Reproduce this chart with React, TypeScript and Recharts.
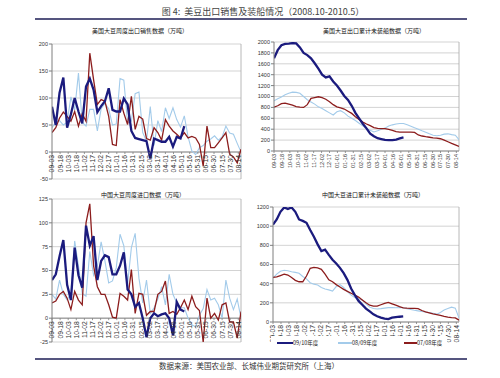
import React from 'react';
import { LineChart, Line, XAxis, YAxis, CartesianGrid, ReferenceLine } from 'recharts';

// week offsets (days from 09-03) and date tick labels every 15 days
const weekDays = [
  0, 7, 14, 21, 28, 35, 42, 49, 56, 63, 70, 77, 84, 91, 98, 105, 112, 119, 126, 133, 140, 147, 154,
  161, 168, 175, 182, 189, 196, 203, 210, 217, 224, 231, 238, 245, 252, 259, 266, 273, 280, 287, 294,
  301, 308, 315, 322, 329, 336, 343, 350,
];
const tickDays = [
  0, 15, 30, 45, 60, 75, 90, 105, 120, 135, 150, 165, 180, 195, 210, 225, 240, 255, 270, 285, 300, 315,
  330, 345,
];
const tickLabels = [
  '09-03', '09-18', '10-03', '10-18', '11-02', '11-17', '12-02', '12-17', '01-01', '01-16', '01-31',
  '02-15', '03-02', '03-17', '04-01', '04-16', '05-01', '05-16', '05-31', '06-15', '06-30', '07-15',
  '07-30', '08-14',
];

const seasons = ['09/10年度', '08/09年度', '07/08年度'];

// 美国大豆周度出口销售数据（万吨）
const usSales0910 = [
  84, 50, 110, 138, 45, 70, 100, 75, 53, 121, 136, 115, 74, 85, 94, 118, 78, 75, 75, 99, 88, 39, 26,
  24, 22, 20, -12, 25, 22, 19, 19, 28, 10, 28, 25, 48,
];
const usSales0809 = [
  45, 55, 58, 50, 55, 102, 78, 146, 55, 48, 79, 79, 39, 80, 90, 80, 50, 52, 136, 133, 54, 57, 108, 111,
  36, 20, 84, 12, 58, 38, 82, 62, 82, 60, 46, 67, 28, 2, -5, 8, 12, 20, 24, 30, 22, 28, 48, 35, 33, 16, 0,
];
const usSales0708 = [
  36, 45, 63, 74, 66, 57, 75, 48, 71, 57, 183, 134, 88, 97, 94, 66, 14, 12, 97, 72, 51, 103, 42, 66, 61,
  25, 22, 45, 36, 22, 60, 48, 39, 33, 26, 36, 26, 29, 26, 14, -26, 48, 8, 8, 17, 26, 36, -4, -9, -20, 5,
];

// 美国大豆出口累计未装船数据（万吨）
const usUnshipped0910 = [
  1700, 1850, 1940, 1965, 1970, 1980, 1975, 1900, 1800, 1760, 1700, 1610, 1510, 1400, 1350, 1370, 1275,
  1200, 1110, 1010, 936, 830, 700, 600, 500, 416, 320, 270, 235, 220, 205, 200, 200, 210, 230, 248,
];
const usUnshipped0809 = [
  920, 960, 990, 1030, 1060, 1080, 1075, 1060, 1000, 940, 900, 860, 810, 780, 740, 700, 660, 720, 740,
  700, 640, 600, 560, 510, 460, 410, 380, 350, 370, 400, 420, 460, 480, 495, 505, 505, 480, 455, 425,
  400, 370, 345, 315, 290, 280, 290, 310, 315, 300, 290, 210,
];
const usUnshipped0708 = [
  805, 830, 870, 880, 860, 840, 815, 805, 800, 850, 965, 980, 995, 980, 950, 905, 850, 810, 790, 770,
  730, 690, 630, 580, 530, 495, 465, 430, 415, 410, 410, 395, 380, 355, 345, 345, 345, 345, 340, 295,
  275, 262, 252, 240, 235, 225, 200, 170, 140, 112, 85,
];

// 中国大豆周度进口数据（万吨）
const cnImports0910 = [
  40, 46, 65, 82, 35, 19, 74, 45, 32, 97, 76, 86, 40, 60, 66, 64, 46, 46, 55, 69, 30, 25, 12, 16, 0,
  -20, 0, 5, 2, 4, 5, 0, -18, 17, 9, 7,
];
const cnImports0809 = [
  25, 20, 40, 25, 19, 26, 81, 55, 26, 23, 70, 45, 55, 80, 60, 37, 39, 53, 88, 76, 36, 74, 89, 42, 16,
  40, 5, 11, 20, 33, 14, 46, 25, 16, 11, 11, 0, -7, -9, 3, 10, 30, 19, 21, 14, 0, 40, 21, 9, 20, 0,
];
const cnImports0708 = [
  16, 18, 25, 28, 21, 9, 28, 19, 14, 100, 120, 55, 33, 25, 25, 14, 1, 0, 26, 23, 19, 51, 5, 26, 25, 3,
  7, 7, 25, 28, 39, 5, 7, 4, 11, 19, 9, 23, 12, 8, -25, 21, 0, 5, -2, 14, 16, -4, -4, -21, 7,
];

// 中国大豆进口累计未装船数据（万吨）
const cnUnshipped0910 = [
  1016, 1070, 1150, 1195, 1180, 1195, 1150, 1070, 1055, 1035, 960, 890, 810, 740, 755, 700, 650, 610,
  565, 510, 440, 350, 280, 220, 180, 140, 110, 80, 60, 45, 35, 30, 45, 50, 55, 58,
];
const cnUnshipped0809 = [
  458, 500, 530, 540, 535, 525, 518, 508, 475, 450, 410, 395, 386, 360, 345, 335, 323, 370, 390, 360,
  316, 280, 255, 240, 230, 190, 155, 140, 136, 140, 145, 150, 150, 148, 150, 150, 138, 130, 122, 116,
  110, 105, 98, 90, 82, 100, 125, 140, 155, 145, 40,
];
const cnUnshipped0708 = [
  465, 470, 485, 500, 490, 465, 435, 420, 420, 480, 560, 570, 565, 550, 500, 440, 420, 390, 365, 340,
  320, 300, 280, 260, 230, 200, 175, 165, 165, 180, 195, 205, 190, 175, 160, 148, 145, 143, 142, 140,
  120, 105, 95, 85, 78, 68, 58, 50, 45, 42, 20,
];

const NAVY = '#1b1b7e';
const LIGHT = '#a3cbea';
const RED = '#8c1d1d';

const numFont = '"Liberation Sans", Arial, sans-serif';
const cjkFont = '"Noto Sans CJK SC", sans-serif';

const buildRows = (a: number[], b: number[], c: number[]) =>
  weekDays.map((day, k) => ({ day, s0910: a[k], s0809: b[k], s0708: c[k] }));

function makeDateTick(shift: number, size: number) {
  return (props: any) => {
    const { x, y, payload } = props;
    const label = tickLabels[tickDays.indexOf(payload.value)];
    return (
      <g transform={`translate(${x},${y - shift})`}>
        <line x1={0} y1={0} x2={0} y2={2} stroke="#7f7f7f" strokeWidth={0.8} />
        <text
          transform="rotate(-90)"
          x={-3}
          y={0}
          dy={size * 0.36}
          textAnchor="end"
          fontSize={size}
          fill="#333"
          fontFamily={numFont}
        >
          {label}
        </text>
      </g>
    );
  };
}

interface PanelProps {
  left: number;
  top: number;
  width: number;
  height: number;
  margin: { top: number; right: number; bottom: number; left: number };
  yAxisWidth: number;
  yMin: number;
  yMax: number;
  yTicks: number[];
  rows: any[];
  title: string;
  titleX: number;
  titleY: number;
  dateSize: number;
}

function Panel({ left, top, width, height, margin, yAxisWidth, yMin, yMax, yTicks, rows, title, titleX, titleY, dateSize }: PanelProps) {
  const axisH = 1;
  const plotH = height - margin.top - margin.bottom - axisH;
  const zeroShift = (plotH * (0 - yMin)) / (yMax - yMin);
  return (
    <>
      <div
        style={{
          position: 'absolute',
          left: titleX,
          top: titleY,
          transform: 'translateX(-50%)',
          fontFamily: cjkFont,
          fontSize: 6,
          lineHeight: '8px',
          color: '#111',
          whiteSpace: 'nowrap',
        }}
      >
        {title}
      </div>
      <div style={{ position: 'absolute', left, top }}>
        <LineChart width={width} height={height} data={rows} margin={margin}>
          <CartesianGrid horizontal vertical={false} stroke="#c8c8c8" strokeWidth={0.8} />
          <XAxis
            dataKey="day"
            type="number"
            domain={[0, 350]}
            ticks={tickDays}
            interval={0}
            height={axisH}
            tickSize={0}
            tickMargin={0}
            axisLine={false}
            allowDataOverflow
            tick={makeDateTick(zeroShift, dateSize)}
          />
          <YAxis
            type="number"
            width={yAxisWidth}
            domain={[yMin, yMax]}
            ticks={yTicks}
            interval={0}
            allowDataOverflow
            tickSize={3}
            tickMargin={1}
            axisLine={{ stroke: '#7f7f7f' }}
            tickLine={{ stroke: '#7f7f7f' }}
            tick={{ fontSize: 5.5, fill: '#333', fontFamily: numFont }}
          />
          <ReferenceLine x={350} stroke="#a6a6a6" strokeWidth={0.8} />
          <ReferenceLine y={0} stroke="#7f7f7f" strokeWidth={0.9} />
          <Line type="linear" dataKey="s0809" stroke={LIGHT} strokeWidth={1.1} dot={false} isAnimationActive={false} />
          <Line type="linear" dataKey="s0708" stroke={RED} strokeWidth={1.3} dot={false} isAnimationActive={false} />
          <Line type="linear" dataKey="s0910" stroke={NAVY} strokeWidth={2.3} dot={false} isAnimationActive={false} />
        </LineChart>
      </div>
    </>
  );
}

const legendItems = [
  { name: seasons[0], color: NAVY, w: 2.5, lineLeft: 277, textLeft: 293 },
  { name: seasons[1], color: LIGHT, w: 1.2, lineLeft: 338, textLeft: 352 },
  { name: seasons[2], color: RED, w: 1.5, lineLeft: 404, textLeft: 417 },
];

export default function App() {
  return (
    <div
      style={{
        position: 'absolute',
        left: 0,
        top: 0,
        width: 500,
        height: 378,
        background: '#fff',
        overflow: 'hidden',
      }}
    >
      <div
        style={{
          position: 'absolute',
          left: 263,
          top: 6,
          transform: 'translateX(-50%)',
          fontFamily: cjkFont,
          fontSize: 9,
          lineHeight: '12px',
          color: '#444',
          whiteSpace: 'nowrap',
        }}
      >
        图 4:&nbsp; 美豆出口销售及装船情况（2008.10-2010.5）
      </div>
      <div style={{ position: 'absolute', left: 35, top: 18, width: 432, height: 1.5, background: '#55557f' }} />

      <Panel
        left={0}
        top={30}
        width={250}
        height={160}
        margin={{ top: 14, right: 9, bottom: 10, left: 22 }}
        yAxisWidth={30}
        yMin={-50}
        yMax={200}
        yTicks={[-50, 0, 50, 100, 150, 200]}
        rows={buildRows(usSales0910, usSales0809, usSales0708)}
        title="美国大豆周度出口销售数据（万吨）"
        titleX={140}
        titleY={27}
        dateSize={6.8}
      />
      <Panel
        left={250}
        top={30}
        width={250}
        height={160}
        margin={{ top: 12, right: 41, bottom: 38, left: 0 }}
        yAxisWidth={24}
        yMin={0}
        yMax={2000}
        yTicks={[0, 200, 400, 600, 800, 1000, 1200, 1400, 1600, 1800, 2000]}
        rows={buildRows(usUnshipped0910, usUnshipped0809, usUnshipped0708)}
        title="美国大豆出口累计未装船数据（万吨）"
        titleX={374}
        titleY={27}
        dateSize={5.5}
      />
      <Panel
        left={0}
        top={190}
        width={250}
        height={165}
        margin={{ top: 9, right: 9, bottom: 12, left: 22 }}
        yAxisWidth={30}
        yMin={-25}
        yMax={125}
        yTicks={[-25, 0, 25, 50, 75, 100, 125]}
        rows={buildRows(cnImports0910, cnImports0809, cnImports0708)}
        title="中国大豆周度进口数据（万吨）"
        titleX={143}
        titleY={191}
        dateSize={6.8}
      />
      <Panel
        left={250}
        top={190}
        width={250}
        height={165}
        margin={{ top: 17, right: 41, bottom: 32, left: 0 }}
        yAxisWidth={23}
        yMin={0}
        yMax={1200}
        yTicks={[0, 200, 400, 600, 800, 1000, 1200]}
        rows={buildRows(cnUnshipped0910, cnUnshipped0809, cnUnshipped0708)}
        title="中国大豆进口累计未装船数据（万吨）"
        titleX={373}
        titleY={191}
        dateSize={6.8}
      />

      {/* legend box sits over the lower part of the date labels, as in the source */}
      <div style={{ position: 'absolute', left: 271, top: 336, width: 176, height: 14, background: '#fff' }}>
        {legendItems.map((it) => (
          <React.Fragment key={it.name}>
            <div
              style={{
                position: 'absolute',
                left: it.lineLeft - 271,
                top: 7 - it.w / 2,
                width: it.textLeft - it.lineLeft,
                height: it.w,
                background: it.color,
              }}
            />
            <div
              style={{
                position: 'absolute',
                left: it.textLeft - 271,
                top: 3,
                fontFamily: cjkFont,
                fontSize: 5.5,
                lineHeight: '8px',
                color: '#222',
                whiteSpace: 'nowrap',
              }}
            >
              {it.name}
            </div>
          </React.Fragment>
        ))}
      </div>

      <div style={{ position: 'absolute', left: 35, top: 358, width: 432, height: 1.5, background: '#55557f' }} />
      <div
        style={{
          position: 'absolute',
          left: 249,
          top: 361,
          transform: 'translateX(-50%)',
          fontFamily: cjkFont,
          fontSize: 7.5,
          lineHeight: '10px',
          color: '#333',
          whiteSpace: 'nowrap',
        }}
      >
        数据来源：美国农业部、长城伟业期货研究所（上海）
      </div>
    </div>
  );
}
